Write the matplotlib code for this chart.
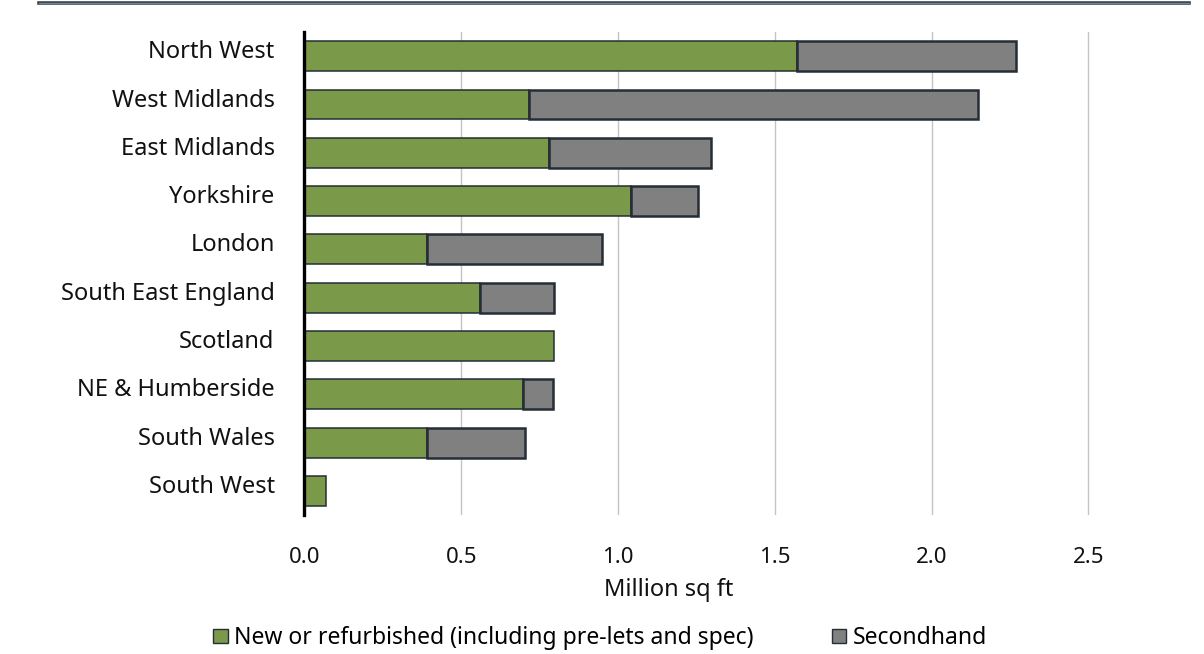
import matplotlib
matplotlib.use("Agg")
import matplotlib.pyplot as plt
from matplotlib.patches import Patch
from matplotlib.lines import Line2D
from matplotlib.transforms import ScaledTranslation

plt.rcParams['font.family'] = ['Noto Sans', 'DejaVu Sans']

regions = ["North West", "West Midlands", "East Midlands", "Yorkshire", "London",
           "South East England", "Scotland", "NE & Humberside", "South Wales", "South West"]
new_refurb = [1.57, 0.715, 0.78, 1.04, 0.39, 0.56, 0.795, 0.697, 0.39, 0.07]
secondhand = [0.70, 1.432, 0.518, 0.215, 0.558, 0.236, 0.0, 0.096, 0.312, 0.0]
xticks = [0.0, 0.5, 1.0, 1.5, 2.0, 2.5]
xtick_labels = ["0.0", "0.5", "1.0", "1.5", "2.0", "2.5"]

GREEN = "#7a9a4a"
GREY = "#808080"
EDGE = "#252d36"
TEXT = "#111111"

fig = plt.figure(figsize=(12.04, 6.54), dpi=100)
ax = fig.add_axes([0.2529, 0.2125, 0.9690 - 0.2529, 0.951 - 0.2125])

y = list(range(len(regions)))
ax.barh(y, new_refurb, height=0.62, color=GREEN, edgecolor=EDGE, linewidth=1.1, zorder=3)
for yi, left, w in zip(y, new_refurb, secondhand):
    if w > 0:
        ax.barh(yi, w, left=left, height=0.62, color=GREY, edgecolor=EDGE,
                linewidth=1.8, zorder=3)

ax.set_ylim(len(regions) - 0.5, -0.5)
ax.set_xlim(0, 2.75)
ax.set_yticks(y)
ax.set_yticklabels(regions, fontsize=17, color=TEXT)
ax.set_xticks(xticks)
ax.set_xticklabels(xtick_labels, fontsize=16, color=TEXT)
ax.tick_params(axis='both', length=0)
ax.tick_params(axis='y', pad=21.5)
ax.tick_params(axis='x', pad=23)

# Category labels sit slightly above the bar centres
lift = ScaledTranslation(0, 5 / 72, fig.dpi_scale_trans)
for lbl in ax.get_yticklabels():
    lbl.set_transform(lbl.get_transform() + lift)

ax.set_xlabel("Million sq ft", fontsize=17, color=TEXT, va="center")
ax.xaxis.set_label_coords(669 / 1204, 1 - 590 / 654, transform=fig.transFigure)

ax.grid(axis='x', color="#c4c4c4", linewidth=1.0, zorder=0)
for s in ["top", "right", "bottom"]:
    ax.spines[s].set_visible(False)
ax.spines["left"].set_linewidth(2.4)
ax.spines["left"].set_color("#000000")
ax.spines["left"].set_zorder(4)

# Double rule across the top of the figure
fig.add_artist(Line2D([39 / 1204, 1189 / 1204], [1 - 3 / 654, 1 - 3 / 654],
                      color="#3c4650", linewidth=2.6, transform=fig.transFigure))
fig.add_artist(Line2D([39 / 1204, 1189 / 1204], [1 - 3 / 654, 1 - 3 / 654],
                      color="#8a949c", linewidth=0.6, transform=fig.transFigure))

handles = [Patch(facecolor=GREEN, edgecolor=EDGE, linewidth=1.0,
                 label="New or refurbished (including pre-lets and spec)"),
           Patch(facecolor=GREY, edgecolor=EDGE, linewidth=1.0, label="Secondhand")]
fig.legend(handles=handles, loc="center", bbox_to_anchor=(600 / 1204, 1 - 638 / 654),
           ncol=2, frameon=False, fontsize=16.5, handlelength=0.62, handleheight=0.62,
           handletextpad=0.26, columnspacing=3.45, borderpad=0, borderaxespad=0)

fig.savefig("out.png", dpi=100)
